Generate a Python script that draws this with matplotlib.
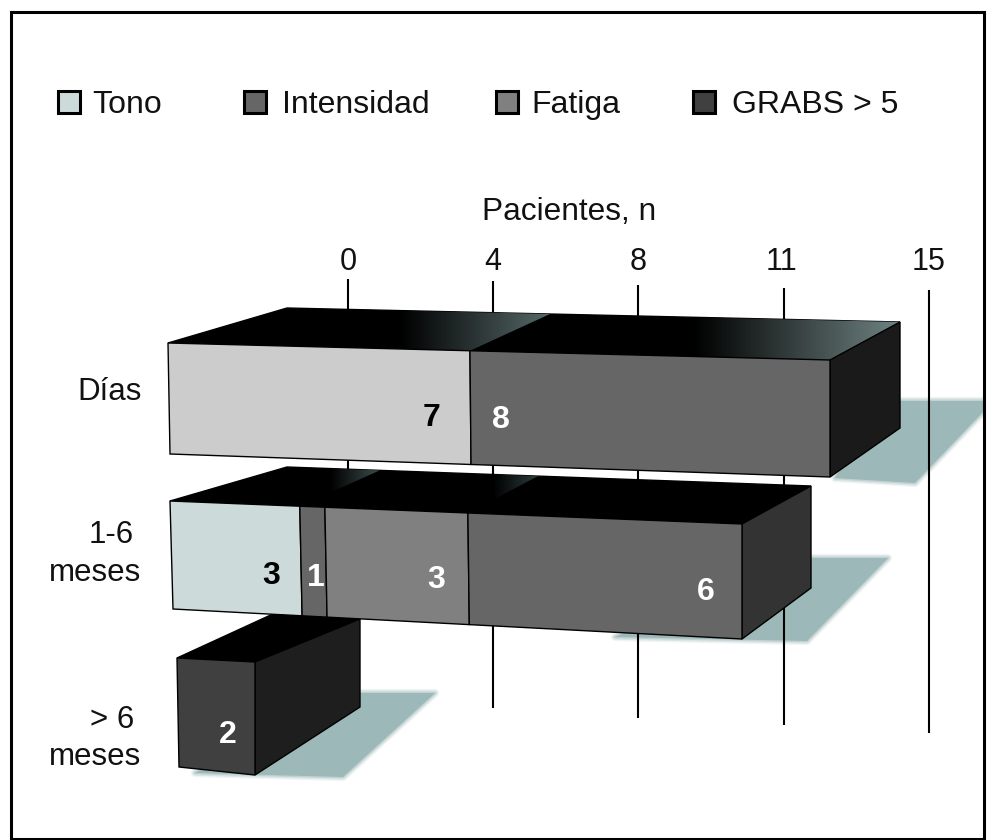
#!/usr/bin/env python
# -*- coding: utf-8 -*-

"""
Pseudo 3D stacked bars: patients per symptom and time after surgery
"""

import matplotlib
matplotlib.use("Agg")
import matplotlib.pyplot as plt
import numpy as np
from matplotlib.colors import LinearSegmentedColormap
from matplotlib.patches import Polygon, Rectangle

plt.rcParams['font.family'] = ['Liberation Sans', 'DejaVu Sans']

# data
legend_names = ["Tono", "Intensidad", "Fatiga", "GRABS > 5"]
legend_colors = ["#cddada", "#666666", "#808080", "#404040"]
axis_title = "Pacientes, n"
tick_labels = ["0", "4", "8", "11", "15"]
row_labels = [["Días"], ["1-6", "meses"], ["> 6", "meses"]]
dias_counts = [7, 8]
meses_counts = [3, 1, 3, 6]
largo_counts = [2]
# drawn length of each segment, in patients
dias_lengths = [6.86, 8.18]
meses_lengths = [2.95, 0.57, 3.25, 6.23]
largo_lengths = [1.77]
dias_colors = ["#cccccc", "#666666"]
meses_colors = ["#cddada", "#666666", "#808080", "#666666"]
largo_colors = ["#404040"]

# layout, all in picture pixels
front = [[(168, 343), (830, 360), (830, 477), (170, 454)],
         [(170, 501), (742, 524), (742, 639), (173, 609)],
         [(177, 658), (255, 662), (255, 775), (179, 767)]]
back = [[(287, 308), (900, 322), (900, 428)],
        [(287, 467), (811, 486), (811, 588)],
        [(275, 613), (360, 619), (360, 707)]]
side_colors = ["#1a1a1a", "#333333", "#1e1e1e"]
shadows = [[(880, 401), (983, 401), (983, 412), (915, 483), (835, 478)],
           [(790, 558), (888, 558), (807, 641), (615, 637)],
           [(340, 693), (435, 693), (343, 777), (195, 773)]]
shadow_color = "#9db8b8"
# where the segment borders meet the back edge, and the sheen on the top faces
back_fracs = [[0.429, 1.0], [0.177, 0.25, 0.479, 1.0], [1.0]]
sheen = {(0, 0): (400, "#566868"), (0, 1): (693, "#6f8282"),
         (1, 0): (330, "#3c4e4e"), (1, 2): (493, "#2c3c3c")}
label_pos = [[(432, 418), (501, 420)],
             [(271, 576), (316, 578), (436, 580), (706, 592)],
             [(228, 735)]]
tick_x = [348, 493, 638, 784, 929]
tick_label_x = [348, 493, 638, 781, 929]
tick_top = [279, 281, 285, 288, 290]
tick_bottom = [700, 708, 718, 725, 733]
legend_box_x = [58, 244, 496, 693]
legend_text_x = [92.5, 282, 531.5, 731.5]
row_text = [[(141.5, 392)], [(134, 535), (141.5, 573)], [(134, 720), (141.5, 757)]]

counts = [dias_counts, meses_counts, largo_counts]
lengths = [dias_lengths, meses_lengths, largo_lengths]
colors = [dias_colors, meses_colors, largo_colors]


def lerp(a, b, t):
    return (a[0] + (b[0] - a[0]) * t, a[1] + (b[1] - a[1]) * t)


def draw_bar(ax, i, z):
    tl, tr, br, bl = front[i]
    btl, btr, bbr = back[i]
    edges = np.cumsum([0] + lengths[i]) / sum(lengths[i])
    # top face, black with a sheen towards the right of some segments
    ax.add_patch(Polygon([tl, tr, btr, btl], fc="black", ec="black", lw=1, zorder=z))
    for s in range(len(counts[i])):
        if (i, s) not in sheen:
            continue
        start, end_color = sheen[(i, s)]
        prev = back_fracs[i][s - 1] if s > 0 else 0
        poly = [lerp(tl, tr, edges[s]), lerp(tl, tr, edges[s + 1]),
                lerp(btl, btr, back_fracs[i][s]), lerp(btl, btr, prev)]
        right = max(p[0] for p in poly)
        cmap = LinearSegmentedColormap.from_list("sheen", ["#000000", end_color])
        im = ax.imshow(np.linspace(0, 1, 128).reshape(1, -1), cmap=cmap, aspect="auto",
                       extent=(start, right, 700, 250), zorder=z + 0.1,
                       interpolation="bilinear")
        clip = Polygon(poly, transform=ax.transData)
        im.set_clip_path(clip)
    # side face
    ax.add_patch(Polygon([tr, btr, bbr, br], fc=side_colors[i], ec="black", lw=1, zorder=z + 0.2))
    # front face, one piece per segment
    for s, col in enumerate(colors[i]):
        ax.add_patch(Polygon([lerp(tl, tr, edges[s]), lerp(tl, tr, edges[s + 1]),
                              lerp(bl, br, edges[s + 1]), lerp(bl, br, edges[s])],
                             fc=col, ec="black", lw=1, zorder=z + 0.3))
    for s, n in enumerate(counts[i]):
        col = "black" if colors[i][s] in ("#cccccc", "#cddada") else "white"
        ax.text(label_pos[i][s][0], label_pos[i][s][1], str(n), color=col, fontsize=23,
                fontweight="bold", ha="center", va="center", zorder=z + 0.4)


fig = plt.figure(figsize=(9.95, 8.4), dpi=100)
ax = fig.add_axes([0, 0, 1, 1])

# soft shadows on the floor
for pts in shadows:
    for lw, alpha in [(6, 0.15), (4, 0.25), (2, 0.4)]:
        ax.add_patch(Polygon(pts, fc="none", ec=shadow_color, lw=lw, alpha=alpha,
                             joinstyle="round", zorder=1))
    ax.add_patch(Polygon(pts, fc=shadow_color, ec="none", zorder=1.1))

# white margin outside the frame hides shadow overflow
ax.add_patch(Rectangle((983, 0), 12, 840, fc="white", ec="none", zorder=1.5))

# axis lines and labels
for x, top, bottom in zip(tick_x, tick_top, tick_bottom):
    ax.plot([x, x], [top, bottom], color="black", lw=1.5, solid_capstyle="butt", zorder=2)
for x, lab in zip(tick_label_x, tick_labels):
    ax.text(x, 262, lab, fontsize=22, ha="center", va="center", color="#111111")
ax.text(569, 212, axis_title, fontsize=22.8, ha="center", va="center", color="#111111")

# bars, the middle one hides the back of the lowest one
draw_bar(ax, 0, 3)
draw_bar(ax, 2, 4)
draw_bar(ax, 1, 5)

# row labels
for lines, spots in zip(row_labels, row_text):
    for line, (x, y) in zip(lines, spots):
        ax.text(x, y, line, fontsize=22.5, ha="right", va="center", color="#111111")

# legend
for x, tx, name, col in zip(legend_box_x, legend_text_x, legend_names, legend_colors):
    ax.add_patch(Rectangle((x, 91), 22, 22, fc=col, ec="black", lw=2.2, zorder=3))
    ax.text(tx, 105, name, fontsize=23, ha="left", va="center", color="#111111")

# frame
ax.add_patch(Rectangle((10.5, 11.5), 973, 827, fc="none", ec="black", lw=2.2, zorder=10))

ax.set_xlim(0, 995)
ax.set_ylim(840, 0)
ax.axis("off")
plt.savefig("out.png", dpi=100)
